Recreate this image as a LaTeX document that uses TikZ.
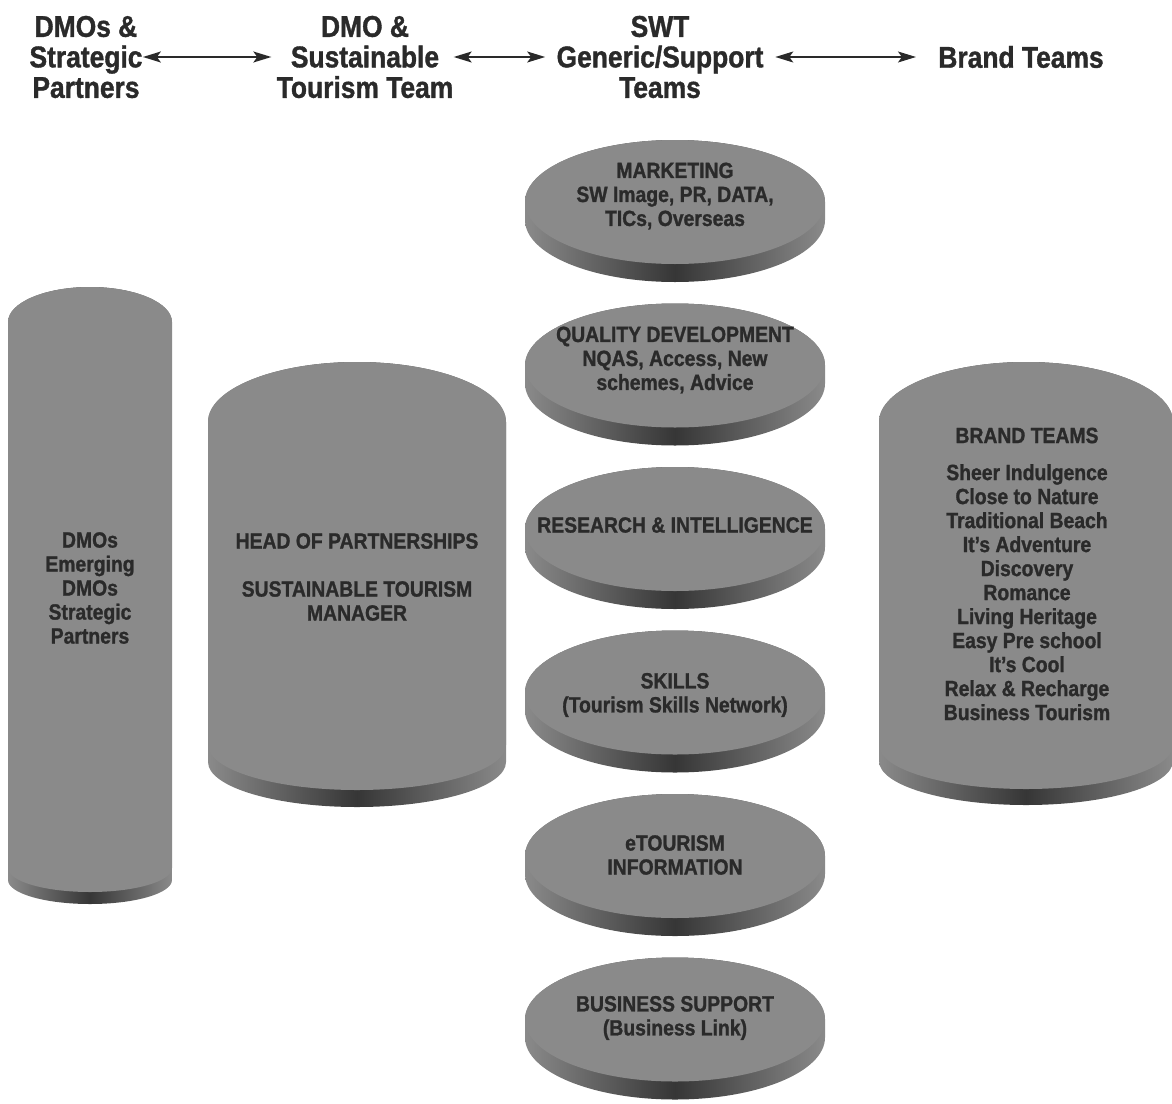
\documentclass[tikz,border=0pt]{standalone}
\usepackage{fontspec}
\setmainfont{Liberation Sans}[FakeStretch=0.88, BoldFeatures={FakeBold=1.2}]
\usetikzlibrary{arrows.meta}
\definecolor{facegray}{HTML}{8A8A8A}
\definecolor{rimgray}{HTML}{363636}
\definecolor{inkgray}{HTML}{2A2A2A}

\begin{document}
\begin{tikzpicture}[x=0.5pt, y=-0.5pt,
	every node/.style={font=\bfseries\fontsize{11}{12}\selectfont, text=inkgray, align=center, inner sep=0pt},
	hdr/.style={font=\bfseries\fontsize{15}{15.25}\selectfont},
	link/.style={inkgray, line width=0.8pt, {Stealth[length=9pt,width=5.5pt,inset=2pt]}-{Stealth[length=9pt,width=5.5pt,inset=2pt]}}]
	\useasboundingbox (0,0) rectangle (1172,1103);
	% tall cylinders: centre x, radius, top arc, its height, side end, bottom arc height, rim
	\foreach \cx/\rx/\yt/\ryt/\ye/\ryb/\t in {90/82/322/35/868/24/12, 357/149/422/60/745/45/17, 1026/147/422/60/745/44/16} {
		\shade[left color=facegray, right color=facegray, middle color=rimgray]
			(\cx-\rx,\yt) arc[start angle=180, end angle=360, x radius=\rx, y radius=\ryt]
			-- (\cx+\rx,\ye+\t) arc[start angle=0, end angle=180, x radius=\rx, y radius=\ryb] -- cycle;
		\fill[facegray]
			(\cx-\rx,\yt) arc[start angle=180, end angle=360, x radius=\rx, y radius=\ryt]
			-- (\cx+\rx,\ye) arc[start angle=0, end angle=180, x radius=\rx, y radius=\ryb] -- cycle;
	}
	% discs of the support teams
	\foreach \yc in {202, 365.5, 529, 692.5, 856, 1019.5} {
		\shade[left color=facegray, right color=facegray, middle color=rimgray]
			(525,\yc) arc[start angle=180, end angle=360, x radius=150, y radius=62]
			-- (825,\yc+18) arc[start angle=0, end angle=180, x radius=150, y radius=62] -- cycle;
		\fill[facegray] (675,\yc) ellipse[x radius=150, y radius=62];
	}
	% header
	\node[hdr] (hdmo) at (86,57) {DMOs \&\\Strategic\\Partners};
	\node[hdr] (hsust) at (365,57) {DMO \&\\Sustainable\\Tourism Team};
	\node[hdr] (hswt) at (660,57) {SWT\\Generic/Support\\Teams};
	\node[hdr] (hbrand) at (1021,57) {Brand Teams};
	\draw[link, shorten >=2.5pt] (hdmo.east) -- (hsust.west);
	\draw[link, shorten >=5.5pt] (hsust.east) -- (hswt.west);
	\draw[link, shorten <=5.75pt, shorten >=11pt] (hswt.east) -- (hbrand.west);
	% labels on the shapes
	\node (pdmo) at (90,588) {DMOs\\Emerging\\DMOs\\Strategic\\Partners};
	\node (phead) at (357,577) {HEAD OF PARTNERSHIPS\\[12pt]SUSTAINABLE TOURISM\\MANAGER};
	\node (pbrand) at (1027,574) {BRAND TEAMS\\[6.5pt]Sheer Indulgence\\Close to Nature\\Traditional Beach\\It’s Adventure\\Discovery\\Romance\\Living Heritage\\Easy Pre school\\It’s Cool\\Relax \& Recharge\\Business Tourism};
	\node (dmkt) at (675,196) {MARKETING\\SW Image, PR, DATA,\\TICs, Overseas};
	\node (dqual) at (675,360) {QUALITY DEVELOPMENT\\NQAS, Access, New\\schemes, Advice};
	\node (dres) at (675,525) {RESEARCH \& INTELLIGENCE};
	\node (dskill) at (675,695) {SKILLS\\(Tourism Skills Network)};
	\node (detour) at (675,855) {eTOURISM\\INFORMATION};
	\node (dbiz) at (675,1018) {BUSINESS SUPPORT\\(Business Link)};
\end{tikzpicture}
\end{document}
